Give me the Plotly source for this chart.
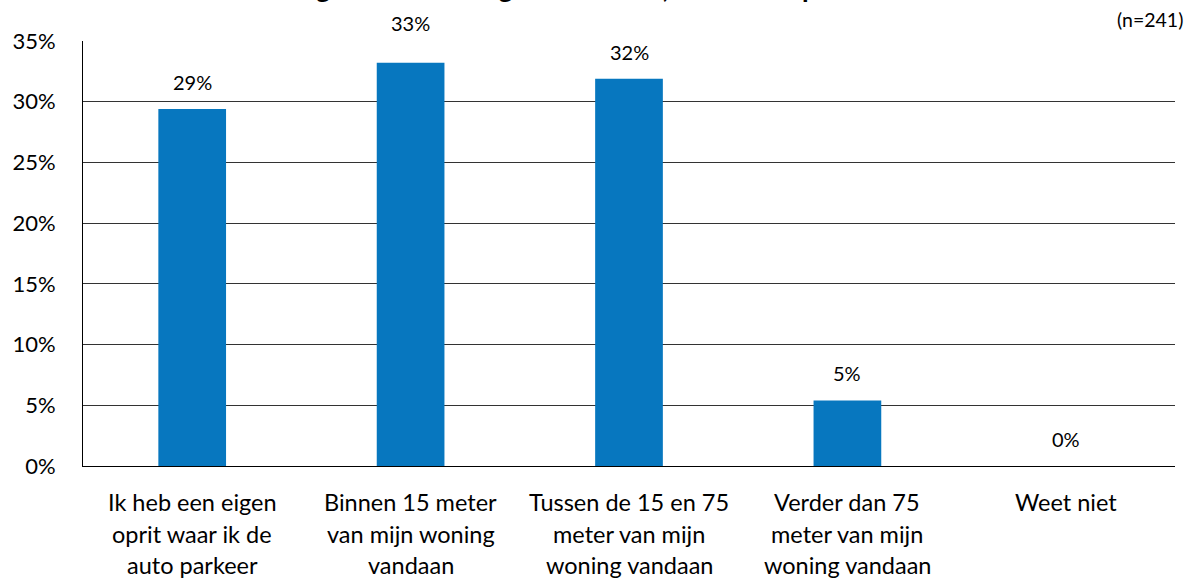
import plotly.graph_objects as go

# ---- data ----
categories = [
    "Ik heb een eigen oprit waar ik de auto parkeer",
    "Binnen 15 meter van mijn woning vandaan",
    "Tussen de 15 en 75 meter van mijn woning vandaan",
    "Verder dan 75 meter van mijn woning vandaan",
    "Weet niet",
]
label_lines = [
    ["Ik heb een eigen", "oprit waar ik de", "auto parkeer"],
    ["Binnen 15 meter", "van mijn woning", "vandaan"],
    ["Tussen de 15 en 75", "meter van mijn", "woning vandaan"],
    ["Verder dan 75", "meter van mijn", "woning vandaan"],
    ["Weet niet"],
]
values = [29.4, 33.2, 31.9, 5.4, 0.0]
y_ticks = [0, 5, 10, 15, 20, 25, 30, 35]
title_text = "Afstand tot woning waar de auto gestald wordt, als u thuis parkeert"
n_text = "(n=241)"

FONT = "Lato"
TXT = "#000000"
BAR = "#0777BF"

Y_MAX = y_ticks[-1]
PLOT_H = 579 - 41 - 113
PX_PER_UNIT = PLOT_H / Y_MAX

fig = go.Figure()
fig.add_trace(go.Bar(
    x=categories, y=values,
    marker=dict(color=BAR, line=dict(width=0)),
    hoverinfo="skip",
))

annotations = []
# data labels (a label that would hit the top gridline moves above the plot area)
for c, v in zip(categories, values):
    room = (Y_MAX - v) * PX_PER_UNIT
    if room < 30:
        ypos, shift = Y_MAX, 4
    else:
        ypos, shift = v, 13
    annotations.append(dict(
        x=c, y=ypos, xref="x", yref="y", text=f"{round(v)}%",
        showarrow=False, yanchor="bottom", yshift=shift,
        font=dict(family=FONT, size=20, color=TXT),
    ))
# category labels (line by line for the wide line spacing)
for c, lines in zip(categories, label_lines):
    for i, line in enumerate(lines):
        annotations.append(dict(
            x=c, y=0, xref="x", yref="paper", text=line,
            showarrow=False, yanchor="middle", yshift=-(36 + 31.5 * i),
            font=dict(family=FONT, size=23.5, color=TXT),
        ))
# sample size
annotations.append(dict(
    x=1, y=1, xref="paper", yref="paper", text=n_text, showarrow=False,
    xanchor="right", yanchor="bottom", yshift=8, xshift=10,
    font=dict(family=FONT, size=19.5, color=TXT),
))
# title (cut off at the top of the page)
annotations.append(dict(
    x=0.013, y=1, xref="paper", yref="paper", text=f"<b>{title_text}</b>",
    showarrow=False, xanchor="left", yanchor="bottom", yshift=34.5,
    font=dict(family=FONT, size=27, color=TXT),
))

fig.update_layout(
    width=1191, height=579,
    margin=dict(l=81, r=16, t=41, b=113),
    paper_bgcolor="white", plot_bgcolor="white",
    bargap=0.69,
    showlegend=False,
    annotations=annotations,
    font=dict(family=FONT, color=TXT),
)
fig.update_xaxes(
    showticklabels=False, showline=True, linecolor="#000000", linewidth=1,
    showgrid=False, ticks="",
)
fig.update_yaxes(
    range=[0, Y_MAX], tickvals=y_ticks, ticktext=[f"{t}%" for t in y_ticks],
    showgrid=True, gridcolor="#333333", gridwidth=1,
    showline=True, linecolor="#000000", linewidth=1,
    zeroline=False, ticks="", ticklabelstandoff=22,
    tickfont=dict(family=FONT, size=22, color=TXT),
)

fig.write_html(
    "out.html",
    config={"displayModeBar": False},
    post_script="document.body.style.margin='0px';document.documentElement.style.overflow='hidden';",
)
